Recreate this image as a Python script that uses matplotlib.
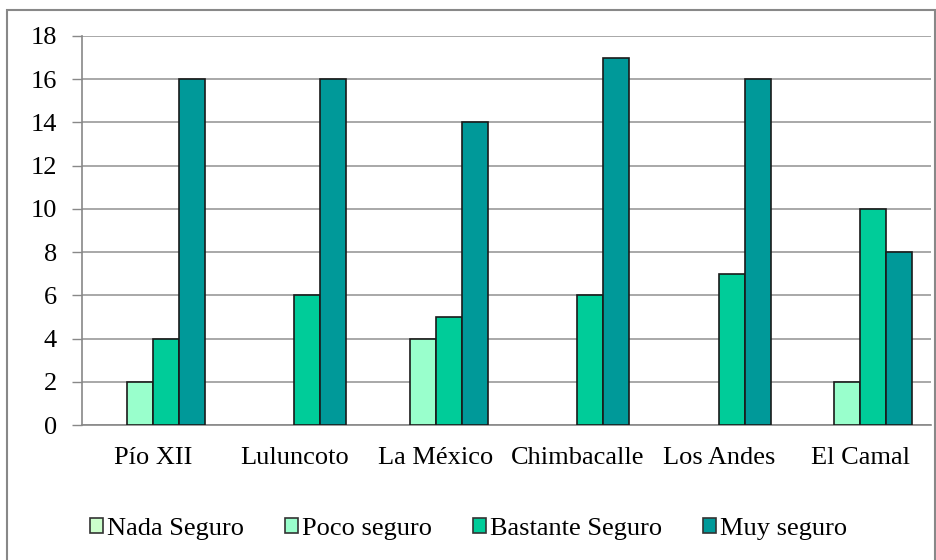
import matplotlib
matplotlib.use("Agg")
import matplotlib.pyplot as plt
import numpy as np
from matplotlib.patches import Rectangle, Patch

categories = ["Pío XII", "Luluncoto", "La México", "Chimbacalle", "Los Andes", "El Camal"]
series_names = ["Nada Seguro", "Poco seguro", "Bastante Seguro", "Muy seguro"]
nada = [0, 0, 0, 0, 0, 0]
poco = [2, 0, 4, 0, 0, 2]
bastante = [4, 6, 5, 6, 7, 10]
muy = [16, 16, 14, 17, 16, 8]
colors = ["#CCFFCC", "#99FFCC", "#00CC99", "#009999"]
yticks = [0, 2, 4, 6, 8, 10, 12, 14, 16, 18]

plt.rcParams['font.family'] = ['Liberation Serif', 'DejaVu Serif']
FS = 19

fig = plt.figure(figsize=(9.37, 5.6), dpi=100)
ax = fig.add_axes([82/937, 1-425/560, (931-82)/937, (425-36)/560])

x = np.arange(len(categories))
w = 0.184
data = [nada, poco, bastante, muy]
for i, (vals, name, c) in enumerate(zip(data, series_names, colors)):
    lws = [1.2 if v > 0 else 0 for v in vals]
    ax.bar(x + (i - 1.5) * w, vals, width=w, color=c, edgecolor="#1a1a1a",
           linewidth=lws, label=name, zorder=3)

ax.set_xlim(-0.5, len(categories) - 0.5)
ax.set_ylim(0, 18)
ax.set_yticks(yticks)
ax.set_yticklabels([str(t) for t in yticks], fontsize=FS)
ax.set_xticks(x)
ax.set_xticklabels(categories, fontsize=FS)
ax.tick_params(axis='x', length=0, pad=16)
ax.tick_params(axis='y', length=7, width=1, color="#888888", pad=11)
ax.grid(axis='y', color="#999999", linewidth=1.2, zorder=0)
ax.set_axisbelow(True)
for s in ["top", "right"]:
    ax.spines[s].set_visible(False)
for s in ["left", "bottom"]:
    ax.spines[s].set_color("#888888")
    ax.spines[s].set_linewidth(1.2)

# outer border
fig.patches.append(Rectangle((7/937, -0.02), (935-7)/937, 1.02 - 10/560,
                             transform=fig.transFigure, fill=False,
                             edgecolor="#888888", linewidth=1.5))

handles = [Patch(facecolor=c, edgecolor="#333333", linewidth=1.2) for c in colors]
fig.legend(handles, series_names, loc="center", bbox_to_anchor=(0.5, 1-529/560),
           ncol=4, frameon=False, fontsize=FS, handlelength=0.5, handleheight=0.5,
           handletextpad=0.15, columnspacing=1.55, borderpad=0, borderaxespad=0)

fig.savefig("out.png", dpi=100)
